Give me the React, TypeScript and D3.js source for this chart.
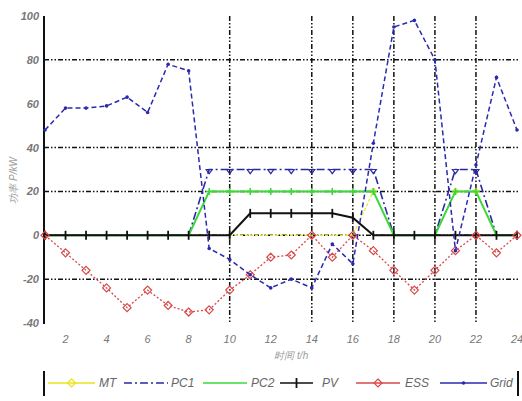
import React from "react";
import * as d3 from "d3";

const hours = d3.range(1, 25);
const MT = [0,0,0,0,0,0,0,0,0,0,0,0,0,0,0,0,20,0,0,0,20,20,0,0];
const PC1 = [0,0,0,0,0,0,0,0,30,30,30,30,30,30,30,30,30,0,0,0,30,30,0,0];
const PC2 = [0,0,0,0,0,0,0,0,20,20,20,20,20,20,20,20,20,0,0,0,20,20,0,0];
const PV = [0,0,0,0,0,0,0,0,0,0,10,10,10,10,10,8,0,0,0,0,0,0,0,0];
const ESS = [0,-8,-16,-24,-33,-25,-32,-35,-34,-25,-18,-10,-9,0,-10,0,-7,-16,-25,-16,-7,0,-8,0];
const GRID = [48,58,58,59,63,56,78,75,-6,-11,-18,-24,-20,-24,-4,-13,42,95,98,80,-7,32,72,48];

const xTicks = [2,4,6,8,10,12,14,16,18,20,22,24];
const yTicks = [-40,-20,0,20,40,60,80,100];
const hGrid = [80,40,20,0,-20];
const vGrid = [10,14,16,18,20,22];

export default function App() {
  const W = 522, H = 401;
  const x = d3.scaleLinear().domain([1, 24]).range([45, 517]);
  const y = d3.scaleLinear().domain([-40, 100]).range([323, 16]);
  const line = d3.line<number>().x((_, i) => x(hours[i])).y(d => y(d));

  const cols = { MT: "#e6e619", PC1: "#2a2aa0", PC2: "#3ad83a", PV: "#111", ESS: "#d84848", Grid: "#2a2ab0" };
  const gridDash = "5,2,1.5,2,1.5,2";
  const tickStyle: React.CSSProperties = { fontFamily: "Liberation Sans, Arial, sans-serif", fontSize: 11, fill: "#777", fontStyle: "italic" };

  const diamond = (cx: number, cy: number, r: number, c: string, k: string) => (
    <path key={k} d={`M${cx},${cy - r}L${cx + r},${cy}L${cx},${cy + r}L${cx - r},${cy}Z`} fill="none" stroke={c} strokeWidth={1.2} />
  );
  const triDown = (cx: number, cy: number, r: number, c: string, k: string) => (
    <path key={k} d={`M${cx - r},${cy}L${cx + r},${cy}L${cx},${cy + r * 1.4}Z`} fill="none" stroke={c} strokeWidth={1.2} />
  );
  const plus = (cx: number, cy: number, r: number, c: string, k: string) => (
    <path key={k} d={`M${cx - r},${cy}H${cx + r}M${cx},${cy - r}V${cy + r}`} stroke={c} strokeWidth={1.6} />
  );
  const bar = (cx: number, cy: number, r: number, c: string, k: string) => (
    <path key={k} d={`M${cx},${cy - r}V${cy + r}`} stroke={c} strokeWidth={1.8} />
  );
  const dot = (cx: number, cy: number, r: number, c: string, k: string) => (
    <circle key={k} cx={cx} cy={cy} r={r} fill={c} />
  );

  const legendY = 383;
  const legendItems = [
    { name: "MT", x0: 48, x1: 95, tx: 99, c: cols.MT, dash: undefined, m: diamond, mr: 4 },
    { name: "PC1", x0: 124, x1: 168, tx: 171, c: cols.PC1, dash: "8,3,2,3", m: null, mr: 0 },
    { name: "PC2", x0: 203, x1: 247, tx: 251, c: cols.PC2, dash: undefined, m: null, mr: 0 },
    { name: "PV", x0: 280, x1: 313, tx: 322, c: cols.PV, dash: undefined, m: bar, mr: 5 },
    { name: "ESS", x0: 356, x1: 400, tx: 405, c: cols.ESS, dash: undefined, m: diamond, mr: 4 },
    { name: "Grid", x0: 440, x1: 487, tx: 490, c: cols.Grid, dash: undefined, m: dot, mr: 1.8 },
  ];

  return (
    <svg width={W} height={H} style={{ position: "absolute", left: 0, top: 0, background: "#fff" }}>
      {hGrid.map(v => (
        <line key={"h" + v} x1={44} x2={519} y1={y(v)} y2={y(v)} stroke="#111" strokeWidth={1.5} strokeDasharray={gridDash} />
      ))}
      {vGrid.map(v => (
        <line key={"v" + v} x1={x(v)} x2={x(v)} y1={16} y2={323} stroke="#111" strokeWidth={1.5} strokeDasharray={gridDash} />
      ))}
      <line x1={44} x2={44} y1={16} y2={324} stroke="#111" strokeWidth={2} />
      {yTicks.map(v => (
        <text key={"yt" + v} x={39} y={y(v) + 4} textAnchor="end" style={{ ...tickStyle, fontWeight: "bold" }}>{v}</text>
      ))}
      {xTicks.map(v => (
        <text key={"xt" + v} x={x(v)} y={343} textAnchor="middle" style={tickStyle}>{v}</text>
      ))}
      <text x={x(13)} y={359} textAnchor="middle" style={{ ...tickStyle, fontSize: 10, fill: "#999" }}>时间 t/h</text>
      <text transform={`translate(17,${y(25)}) rotate(-90)`} textAnchor="middle" style={{ ...tickStyle, fontSize: 10, fill: "#999" }}>功率 P/kW</text>

      <path d={line(MT) || ""} fill="none" stroke={cols.MT} strokeWidth={1.2} strokeDasharray="3,2" />
      {MT.map((v, i) => v !== 0 ? diamond(x(hours[i]), y(v), 3, cols.MT, "mt" + i) : null)}

      <path d={line(PC1) || ""} fill="none" stroke={cols.PC1} strokeWidth={1.6} strokeDasharray="8,3,2,3" />
      {PC1.map((v, i) => v !== 0 ? triDown(x(hours[i]), y(v), 3, cols.PC1, "pc1" + i) : null)}

      <path d={line(PC2) || ""} fill="none" stroke={cols.PC2} strokeWidth={2} />
      {PC2.map((v, i) => v !== 0 ? plus(x(hours[i]), y(v), 3.5, cols.PC2, "pc2" + i) : null)}

      <path d={line(PV) || ""} fill="none" stroke={cols.PV} strokeWidth={2} />
      {PV.map((v, i) => bar(x(hours[i]), y(v), 4.5, cols.PV, "pv" + i))}

      <path d={line(ESS) || ""} fill="none" stroke={cols.ESS} strokeWidth={1.3} strokeDasharray="2,2" />
      {ESS.map((v, i) => diamond(x(hours[i]), y(v), 4, cols.ESS, "ess" + i))}

      <path d={line(GRID) || ""} fill="none" stroke={cols.Grid} strokeWidth={1.5} strokeDasharray="5,3" />
      {GRID.map((v, i) => dot(x(hours[i]), y(v), 1.8, cols.Grid, "g" + i))}

      <line x1={44} x2={44} y1={371} y2={396} stroke="#111" strokeWidth={2} />
      <line x1={518} x2={518} y1={371} y2={396} stroke="#111" strokeWidth={2} />
      {legendItems.map(it => (
        <g key={"lg" + it.name}>
          <line x1={it.x0} x2={it.x1} y1={legendY} y2={legendY} stroke={it.c} strokeWidth={1.6} strokeDasharray={it.dash} />
          {it.m ? it.m((it.x0 + it.x1) / 2, legendY, it.mr, it.c, "lm" + it.name) : null}
          <text x={it.tx} y={legendY + 4} style={{ ...tickStyle, fontSize: 12, fill: "#666" }}>{it.name}</text>
        </g>
      ))}
    </svg>
  );
}
